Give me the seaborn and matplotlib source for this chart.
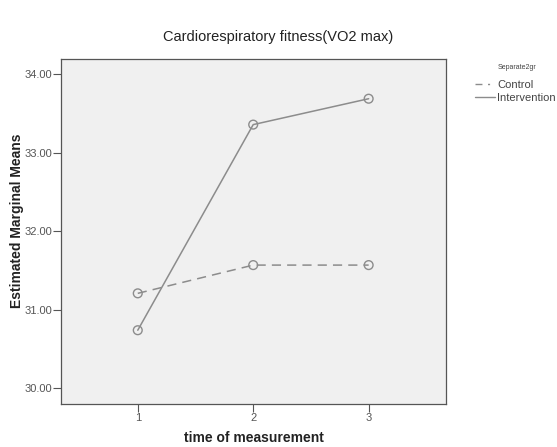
import pandas as pd
import numpy as np
import matplotlib.pyplot as plt
import seaborn as sns
from matplotlib.lines import Line2D

# Estimated marginal means
time_points = [1, 2, 3]
control_means = [31.21, 31.57, 31.57]
intervention_means = [30.74, 33.36, 33.69]
groups = ["Control", "Intervention"]
y_ticks = [30, 31, 32, 33, 34]
y_tick_labels = ["30.00", "31.00", "32.00", "33.00", "34.00"]

df = pd.DataFrame({
    "time": time_points * 2,
    "mean": control_means + intervention_means,
    "group": [groups[0]] * 3 + [groups[1]] * 3,
})

sns.set_style("white")
plt.rcParams['font.family'] = ['Liberation Sans', 'DejaVu Sans']

fig = plt.figure(figsize=(5.57, 4.47), dpi=100)
ax = fig.add_axes([0.1095, 0.0962, 0.6912, 0.7725])
ax.set_facecolor("#f0f0f0")

line_col = "#8c8c8c"
ax = sns.lineplot(data=df, x="time", y="mean", style="group", style_order=groups,
                  dashes={"Control": (6, 4), "Intervention": ""},
                  color=line_col, linewidth=1.1, ax=ax, legend=False)
for g, vals in zip(groups, [control_means, intervention_means]):
    ax.scatter(time_points, vals, s=40, facecolors="none", edgecolors=line_col,
               linewidths=1.0, zorder=3)

ax.set_xlim(0.335, 3.67)
ax.set_ylim(29.80, 34.20)
ax.set_xticks(time_points)
ax.set_yticks(y_ticks)
ax.set_yticklabels(y_tick_labels)
ax.tick_params(axis="both", direction="out", length=5.5, width=0.8, colors="#555555",
               labelsize=8, labelcolor="#555555", left=True, bottom=True, pad=1)
for s in ax.spines.values():
    s.set_color("#555555")
    s.set_linewidth(0.9)

ax.set_xlabel("time of measurement", fontsize=10, fontweight="bold", color="#222222")
ax.set_ylabel("Estimated Marginal Means", fontsize=10, fontweight="bold", color="#222222")
ax.xaxis.set_label_coords(0.5, -0.099)
ax.yaxis.set_label_coords(-0.115, 0.53)
for lab in (ax.xaxis.label, ax.yaxis.label):
    lab.set_va("center")
    lab.set_ha("center")
fig.text(0.5, 0.917, "Cardiorespiratory fitness(VO2 max)", ha="center", va="center",
         fontsize=10.5, color="#222222")

# legend
handles = [Line2D([], [], color=line_col, linestyle=(0, (5, 4, 1.5, 4)), linewidth=1.0),
           Line2D([], [], color=line_col, linestyle="-", linewidth=1.0)]
leg = fig.legend(handles, groups, loc="upper left", bbox_to_anchor=(0.853, 0.822),
                 frameon=False, fontsize=8, handlelength=1.8, handletextpad=0.2,
                 labelspacing=0.3, borderaxespad=0, borderpad=0)
for t in leg.get_texts():
    t.set_color("#444444")
fig.text(0.894, 0.850, "Separate2gr", ha="left", va="center", fontsize=5, color="#444444")

fig.savefig("out.png", dpi=100)
